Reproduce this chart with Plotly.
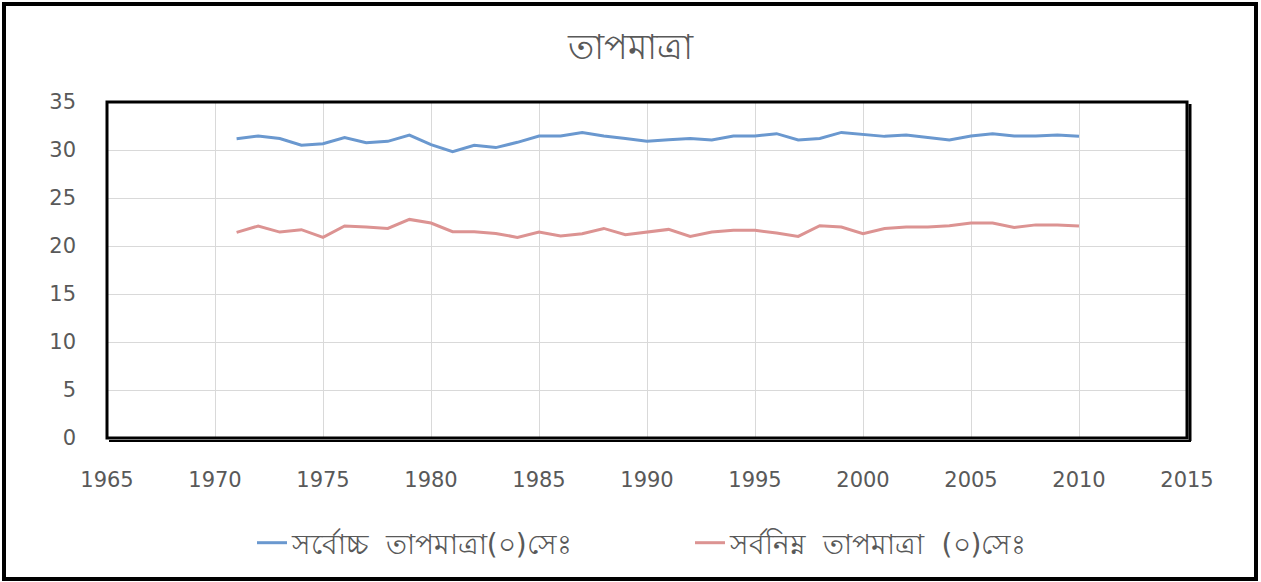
import plotly.graph_objects as go

years = list(range(1971, 2011))
max_temp = [31.18, 31.45, 31.2, 30.5, 30.65, 31.3, 30.75, 30.9, 31.55, 30.55,
            29.83, 30.5, 30.25, 30.8, 31.45, 31.45, 31.83, 31.45, 31.2, 30.9,
            31.07, 31.2, 31.04, 31.45, 31.45, 31.7, 31.04, 31.2, 31.83, 31.6,
            31.42, 31.55, 31.3, 31.04, 31.45, 31.7, 31.45, 31.45, 31.55, 31.42]
min_temp = [21.42, 22.08, 21.45, 21.7, 20.9, 22.08, 21.97, 21.83, 22.77, 22.39,
            21.49, 21.49, 21.31, 20.9, 21.45, 21.04, 21.28, 21.83, 21.18, 21.49,
            21.73, 21.0, 21.45, 21.63, 21.63, 21.35, 21.0, 22.11, 21.97, 21.28,
            21.83, 21.97, 21.97, 22.11, 22.39, 22.39, 21.94, 22.2, 22.2, 22.08]
series_names = ["সর্বোচ্চ  তাপমাত্রা(০)সেঃ", "সর্বনিম্ন  তাপমাত্রা  (০)সেঃ"]
title_text = "তাপমাত্রা"
x_ticks = list(range(1965, 2016, 5))
y_ticks = list(range(0, 36, 5))

FONT = "DejaVu Sans, Noto Sans, sans-serif"
GRAY = "#595959"

fig = go.Figure()
fig.add_trace(go.Scatter(x=years, y=max_temp, mode="lines", name=series_names[0],
                         line=dict(color="#6a98cf", width=3)))
fig.add_trace(go.Scatter(x=years, y=min_temp, mode="lines", name=series_names[1],
                         line=dict(color="#dc9392", width=3)))

W, H = 1261, 582
L, R, T, B = 107, 74, 102, 144
pw, ph = W - L - R, H - T - B

def px(x):
    return (x - L) / pw

def py(y):
    return (H - B - y) / ph

shapes = [
    # outer frame
    dict(type="rect", xref="paper", yref="paper", x0=px(4), x1=px(1256), y0=py(579), y1=py(4),
         line=dict(color="black", width=4), layer="above"),
    # plot frame
    dict(type="rect", xref="paper", yref="paper", x0=0, x1=1, y0=0, y1=1,
         line=dict(color="black", width=3), layer="above"),
    # shadow right / bottom
    dict(type="line", xref="paper", yref="paper", x0=px(1190), x1=px(1190), y0=py(441), y1=py(104),
         line=dict(color="black", width=3), layer="above"),
    dict(type="line", xref="paper", yref="paper", x0=px(109), x1=px(1191), y0=py(441), y1=py(441),
         line=dict(color="black", width=2), layer="above"),
]

fig.update_layout(
    width=W, height=H,
    margin=dict(l=L, r=R, t=T, b=B),
    paper_bgcolor="white", plot_bgcolor="white",
    font=dict(family=FONT, color=GRAY, size=20),
    title=dict(text=title_text, x=0.5, xanchor="center", y=1 - 47 / H, yanchor="middle",
               font=dict(size=35, color=GRAY)),
    xaxis=dict(range=[1965, 2015], tickvals=x_ticks, showgrid=True, gridcolor="#d9d9d9",
               gridwidth=1, zeroline=False, showline=False, ticks="",
               tickfont=dict(size=21, color=GRAY), ticklabelstandoff=27),
    yaxis=dict(range=[0, 35], tickvals=y_ticks, showgrid=True, gridcolor="#d9d9d9",
               gridwidth=1, zeroline=False, showline=False, ticks="",
               tickfont=dict(size=21, color=GRAY), ticklabelstandoff=30),
    legend=dict(orientation="h", x=px(252), xanchor="left", y=py(543), yanchor="middle",
                font=dict(size=28, color=GRAY), itemwidth=30,
                entrywidthmode="pixels", entrywidth=393),
    shapes=shapes,
    showlegend=True,
)

fig.write_html("out.html", config={"displayModeBar": False},
               post_script="document.body.style.margin='0';document.body.style.overflow='hidden';")
